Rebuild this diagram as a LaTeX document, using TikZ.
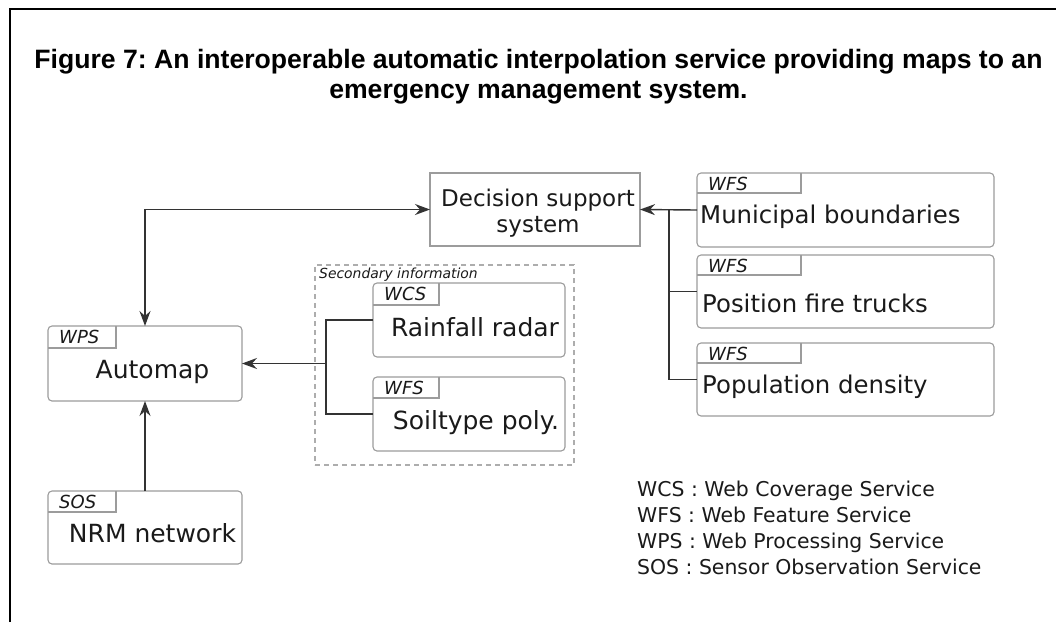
\documentclass[tikz,border=0pt]{standalone}
\usepackage{fontspec}
\setmainfont{DejaVu Sans}
\newfontfamily\titlefont{Liberation Sans}
\usetikzlibrary{arrows.meta,calc}
\definecolor{boxgray}{HTML}{9C9C9C}
\definecolor{linegray}{HTML}{333333}
\definecolor{txt}{HTML}{1A1A1A}
\definecolor{dashgray}{HTML}{ADADAD}
\newcommand\tabmark[4]{%
  \draw[tabline] ($(#1.north west)+(#2,0)$) |- ($(#1.north west)+(0,#3)$);
  \node[tagtext, anchor=west] (#1tag) at ($(#1.north west)+(11,11)$) {#4};}
\frenchspacing
\begin{document}
\begin{tikzpicture}[x=1pt,y=-1pt,
  svcbox/.style={draw=boxgray, line width=1.1pt, rounded corners=4pt, inner sep=0pt, outer sep=0pt},
  plainbox/.style={draw=boxgray, line width=1.1pt, inner sep=0pt, outer sep=0pt},
  tabline/.style={draw=boxgray, line width=1.1pt},
  tagtext/.style={inner sep=0pt, text=txt, font=\fontsize{18}{22}\selectfont\itshape},
  maintext/.style={inner sep=0pt, text=txt, font=\fontsize{25}{30}\selectfont},
  righttext/.style={inner sep=0pt, text=txt, font=\fontsize{24.4}{29}\selectfont},
  legtext/.style={inner sep=0pt, text=txt, font=\fontsize{20.4}{25}\selectfont, anchor=base west},
  conn/.style={draw=linegray, line width=1.4pt},
  arr/.tip={Stealth[length=15pt,width=11pt,inset=5pt]},
  tip/.style={-arr},
  titletext/.style={inner sep=0pt, text=black, font=\titlefont\bfseries\fontsize{26.6}{30.6}\selectfont, anchor=base}
]
\useasboundingbox (0,0) rectangle (1056,622);
\fill[white] (0,0) rectangle (1056,622);
% frame
\draw[line width=2pt, black] (10,622) -- (10,9) -- (1056,9);
% title
\node[titletext] (title1) at (538.5,68) {Figure 7: An interoperable automatic interpolation service providing maps to an};
\node[titletext] (title2) at (538.5,98) {emergency management system.};

% secondary information group
\node[draw=dashgray, line width=1.1pt, dash pattern=on 5pt off 4pt, minimum width=259pt, minimum height=200pt, inner sep=0pt] (sec) at (444.5,365) {};
\node[inner sep=0pt, anchor=west, text=txt, font=\fontsize{13.9}{16}\selectfont\itshape] (seclabel) at (319,275) {Secondary information};

% boxes
\node[plainbox, minimum width=210pt, minimum height=73pt] (dec) at (535,209.5) {};
\node[inner sep=0pt, text=txt, font=\fontsize{23}{26}\selectfont, anchor=base] (dec1) at (538,206.5) {Decision support};
\node[inner sep=0pt, text=txt, font=\fontsize{23}{26}\selectfont, anchor=base] (dec2) at (538,232.5) {system};

\node[svcbox, minimum width=194pt, minimum height=75pt] (auto) at (145,363.5) {};
\tabmark{auto}{68}{22}{WPS}
\node[maintext, anchor=base] (autot) at (152.5,378) {Automap};

\node[svcbox, minimum width=194pt, minimum height=73pt] (nrm) at (145,527.5) {};
\tabmark{nrm}{68}{21}{SOS}
\node[maintext, anchor=base] (nrmt) at (152.5,542) {NRM network};

\node[svcbox, minimum width=192pt, minimum height=74pt] (rain) at (469,320) {};
\tabmark{rain}{66}{22}{WCS}
\node[maintext, anchor=base] (raint) at (475,336) {Rainfall radar};

\node[svcbox, minimum width=192pt, minimum height=74pt] (soil) at (469,414) {};
\tabmark{soil}{66}{21}{WFS}
\node[maintext, anchor=base] (soilt) at (476,429) {Soiltype poly.};

\node[svcbox, minimum width=297pt, minimum height=74pt] (mun) at (845.5,210) {};
\tabmark{mun}{104}{20}{WFS}
\node[righttext, anchor=base west] (munt) at (700,223) {Municipal boundaries};

\node[svcbox, minimum width=297pt, minimum height=73pt] (pos) at (845.5,291.5) {};
\tabmark{pos}{104}{20}{WFS}
\node[righttext, anchor=base west] (post) at (702,312) {Position fire trucks};

\node[svcbox, minimum width=297pt, minimum height=73pt] (pop) at (845.5,379.5) {};
\tabmark{pop}{104}{20}{WFS}
\node[righttext, anchor=base west] (popt) at (702,393) {Population density};

% connectors
\draw[conn, arr-arr] (auto.north) |- (dec.west);
\draw[conn, tip] (nrm.north) -- (auto.south);
\coordinate (j2) at (326,363.5);
\draw[conn] (rain.west) -| (j2) |- (soil.west);
\draw[conn, tip] (j2) -- (auto.east);
\coordinate (j1) at (669,210);
\draw[conn, tip] (mun.west) -- (dec.east);
\draw[conn] (j1) |- (pos.west);
\draw[conn] (j1) |- (pop.west);

% legend
\node[legtext] (leg1) at (637,496) {WCS : Web Coverage Service};
\node[legtext] (leg2) at (637,522) {WFS : Web Feature Service};
\node[legtext] (leg3) at (637,548) {WPS : Web Processing Service};
\node[legtext] (leg4) at (637,574) {SOS : Sensor Observation Service};
\end{tikzpicture}
\end{document}
